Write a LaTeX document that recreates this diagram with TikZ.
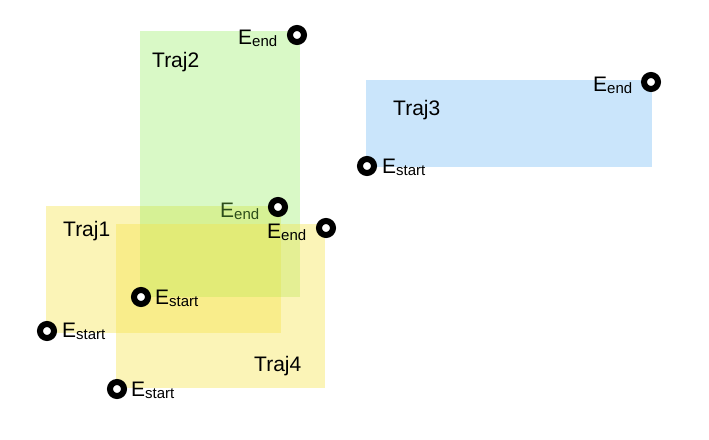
\documentclass[tikz,border=0pt]{standalone}
\usepackage{fontspec}
\setmainfont{Liberation Sans}
\usetikzlibrary{positioning}
\definecolor{trajyellow}{HTML}{F5E34A}
\definecolor{trajgreen}{HTML}{8BEC52}
\definecolor{trajblue}{HTML}{7BBFF5}
\newcommand{\Eend}{E\raisebox{-2pt}{\fontsize{15}{15}\selectfont end}}
\newcommand{\Estart}{E\raisebox{-2pt}{\fontsize{15}{15}\selectfont start}}
\tikzset{
  marker/.style={circle, draw=black, fill=white, line width=6pt, minimum size=14pt, inner sep=0pt},
  trajlabel/.style={anchor=base west, inner sep=0pt, font=\fontsize{21}{21}\selectfont},
}

\begin{document}
\begin{tikzpicture}[x=1pt, y=-1pt]
  \useasboundingbox (0,0) rectangle (709,439);
  % regions, back to front
  \fill[trajyellow, fill opacity=0.4] (46,206) rectangle (281,333);
  \node[trajlabel] (end2a) at (220,217) {\Eend};
  \fill[trajgreen, fill opacity=0.33] (140,31) rectangle (300,297);
  \fill[trajyellow, fill opacity=0.4] (116,224) rectangle (325,388);
  \fill[trajblue, fill opacity=0.4] (366,80) rectangle (652,167);

  \node[trajlabel] (t1) at (63,236) {Traj1};
  \node[trajlabel] (t2) at (152,67) {Traj2};
  \node[trajlabel] (t3) at (393,115) {Traj3};
  \node[trajlabel] (t4) at (254,371) {Traj4};

  % start / end points
  \node[marker] (s1) at (47,331) {};
  \node[marker] (s2) at (141,297) {};
  \node[marker] (s3) at (367,166) {};
  \node[marker] (s4) at (117,389) {};
  \node[marker] (e2) at (297,35) {};
  \node[marker] (e2b) at (278,207) {};
  \node[marker] (e3) at (651,82) {};
  \node[marker] (e4) at (326,228) {};

  \node[trajlabel] (ls1) at (62,337) {\Estart};
  \node[trajlabel] (ls2) at (155,304) {\Estart};
  \node[trajlabel] (ls3) at (382,173) {\Estart};
  \node[trajlabel] (ls4) at (131,396) {\Estart};
  \node[trajlabel] (le2) at (238,44) {\Eend};
  \node[trajlabel] (le3) at (593,91) {\Eend};
  \node[trajlabel] (le4) at (267,238) {\Eend};
\end{tikzpicture}
\end{document}
